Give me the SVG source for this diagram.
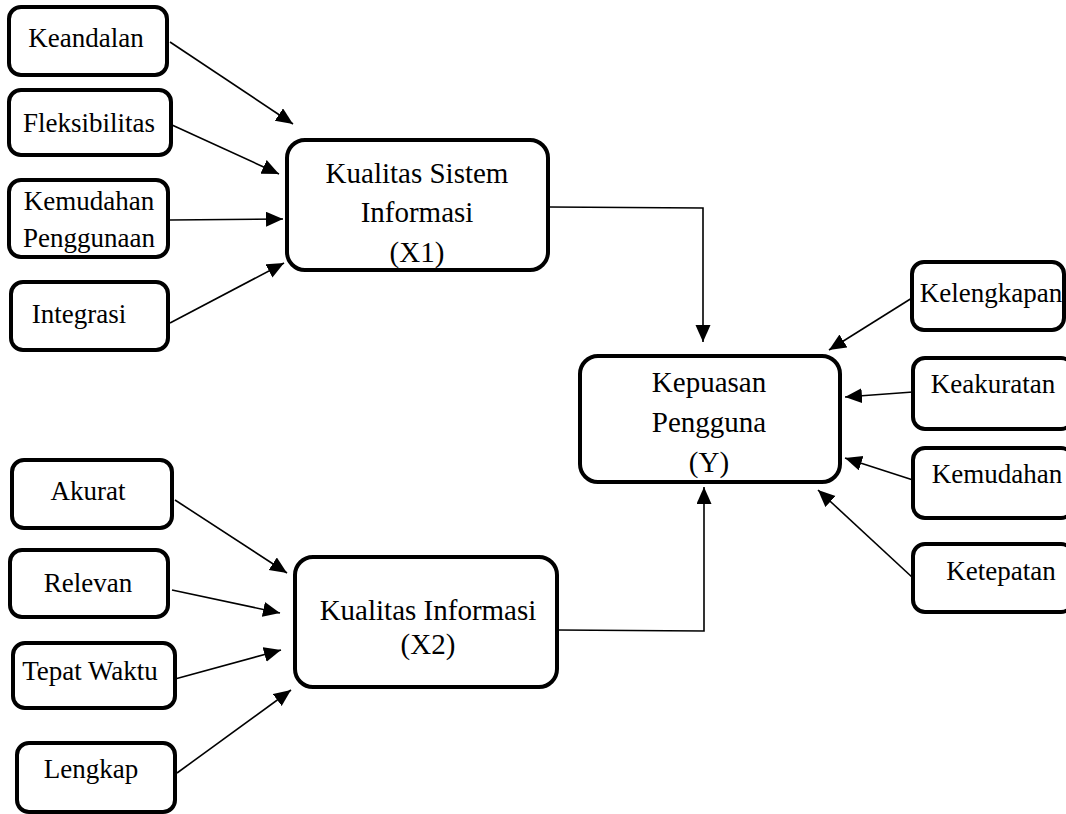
<svg xmlns="http://www.w3.org/2000/svg" width="1066" height="814" viewBox="0 0 1066 814">
<style>
.box{fill:#fff;stroke:#000;stroke-width:4}
text{fill:#000;text-anchor:middle}
.s{font-size:27px}
.b{font-size:29px}
.c{fill:none;stroke:#000;stroke-width:1.6}
</style>
<defs>
<marker id="ah" markerUnits="userSpaceOnUse" markerWidth="18" markerHeight="16" refX="17" refY="7.5" orient="auto">
<path d="M0,0 L17,7.5 L0,15 z" fill="#000"/>
</marker>
</defs>
<rect width="1066" height="814" fill="#fff"/>
<g id="connectors">
<line class="c" x1="170" y1="42" x2="293" y2="124" marker-end="url(#ah)"/>
<line class="c" x1="172" y1="125" x2="279" y2="174" marker-end="url(#ah)"/>
<line class="c" x1="170" y1="220" x2="283" y2="219" marker-end="url(#ah)"/>
<line class="c" x1="170" y1="323" x2="284" y2="263" marker-end="url(#ah)"/>
<polyline class="c" points="549,207 703,208 703,342" marker-end="url(#ah)"/>
<polyline class="c" points="557,630 704,631 704,487" marker-end="url(#ah)"/>
<line class="c" x1="912" y1="298" x2="829" y2="350" marker-end="url(#ah)"/>
<line class="c" x1="913" y1="392" x2="845" y2="397" marker-end="url(#ah)"/>
<line class="c" x1="913" y1="480" x2="845" y2="458" marker-end="url(#ah)"/>
<line class="c" x1="913" y1="578" x2="818" y2="490" marker-end="url(#ah)"/>
<line class="c" x1="175" y1="500" x2="287" y2="573" marker-end="url(#ah)"/>
<line class="c" x1="172" y1="590" x2="280" y2="613" marker-end="url(#ah)"/>
<line class="c" x1="175" y1="679" x2="281" y2="650" marker-end="url(#ah)"/>
<line class="c" x1="177" y1="773" x2="291" y2="690" marker-end="url(#ah)"/>
</g>
<g font-family="Liberation Serif, Times New Roman, DejaVu Serif, serif">
<g id="keandalan"><rect class="box" x="9" y="7" width="158" height="68" rx="12"/><text class="s" x="86" y="47">Keandalan</text></g>
<g id="fleksibilitas"><rect class="box" x="9" y="90" width="162" height="65" rx="12"/><text class="s" x="89" y="132">Fleksibilitas</text></g>
<g id="kemudahan-penggunaan"><rect class="box" x="9" y="180" width="159" height="77" rx="12"/><text class="s" x="89" y="210">Kemudahan</text><text class="s" x="89" y="247">Penggunaan</text></g>
<g id="integrasi"><rect class="box" x="11" y="282" width="157" height="68" rx="12"/><text class="s" x="79" y="323">Integrasi</text></g>
<g id="x1"><rect class="box" x="287" y="140" width="261" height="130" rx="18"/><text class="b" x="417" y="183">Kualitas Sistem</text><text class="b" x="417" y="222">Informasi</text><text class="b" x="417" y="262">(X1)</text></g>
<g id="akurat"><rect class="box" x="12" y="460" width="160" height="68" rx="12"/><text class="s" x="88" y="500">Akurat</text></g>
<g id="relevan"><rect class="box" x="10" y="550" width="158" height="67" rx="12"/><text class="s" x="88" y="592">Relevan</text></g>
<g id="tepat-waktu"><rect class="box" x="13" y="643" width="162" height="65" rx="12"/><text class="s" x="90" y="680">Tepat Waktu</text></g>
<g id="lengkap"><rect class="box" x="17" y="743" width="158" height="69" rx="12"/><text class="s" x="91" y="778">Lengkap</text></g>
<g id="x2"><rect class="box" x="295" y="557" width="262" height="130" rx="18"/><text class="b" x="428" y="620">Kualitas Informasi</text><text class="b" x="428" y="654">(X2)</text></g>
<g id="y"><rect class="box" x="580" y="356" width="260" height="126" rx="18"/><text class="b" x="709" y="392">Kepuasan</text><text class="b" x="709" y="432">Pengguna</text><text class="b" x="709" y="472">(Y)</text></g>
<g id="kelengkapan"><rect class="box" x="912" y="262" width="152" height="68" rx="12"/><text class="s" x="991" y="302">Kelengkapan</text></g>
<g id="keakuratan"><rect class="box" x="913" y="358" width="160" height="71" rx="12"/><text class="s" x="993" y="393">Keakuratan</text></g>
<g id="kemudahan"><rect class="box" x="913" y="448" width="160" height="70" rx="12"/><text class="s" x="997" y="483">Kemudahan</text></g>
<g id="ketepatan"><rect class="box" x="913" y="544" width="160" height="68" rx="12"/><text class="s" x="1001" y="580">Ketepatan</text></g>
</g>
</svg>
